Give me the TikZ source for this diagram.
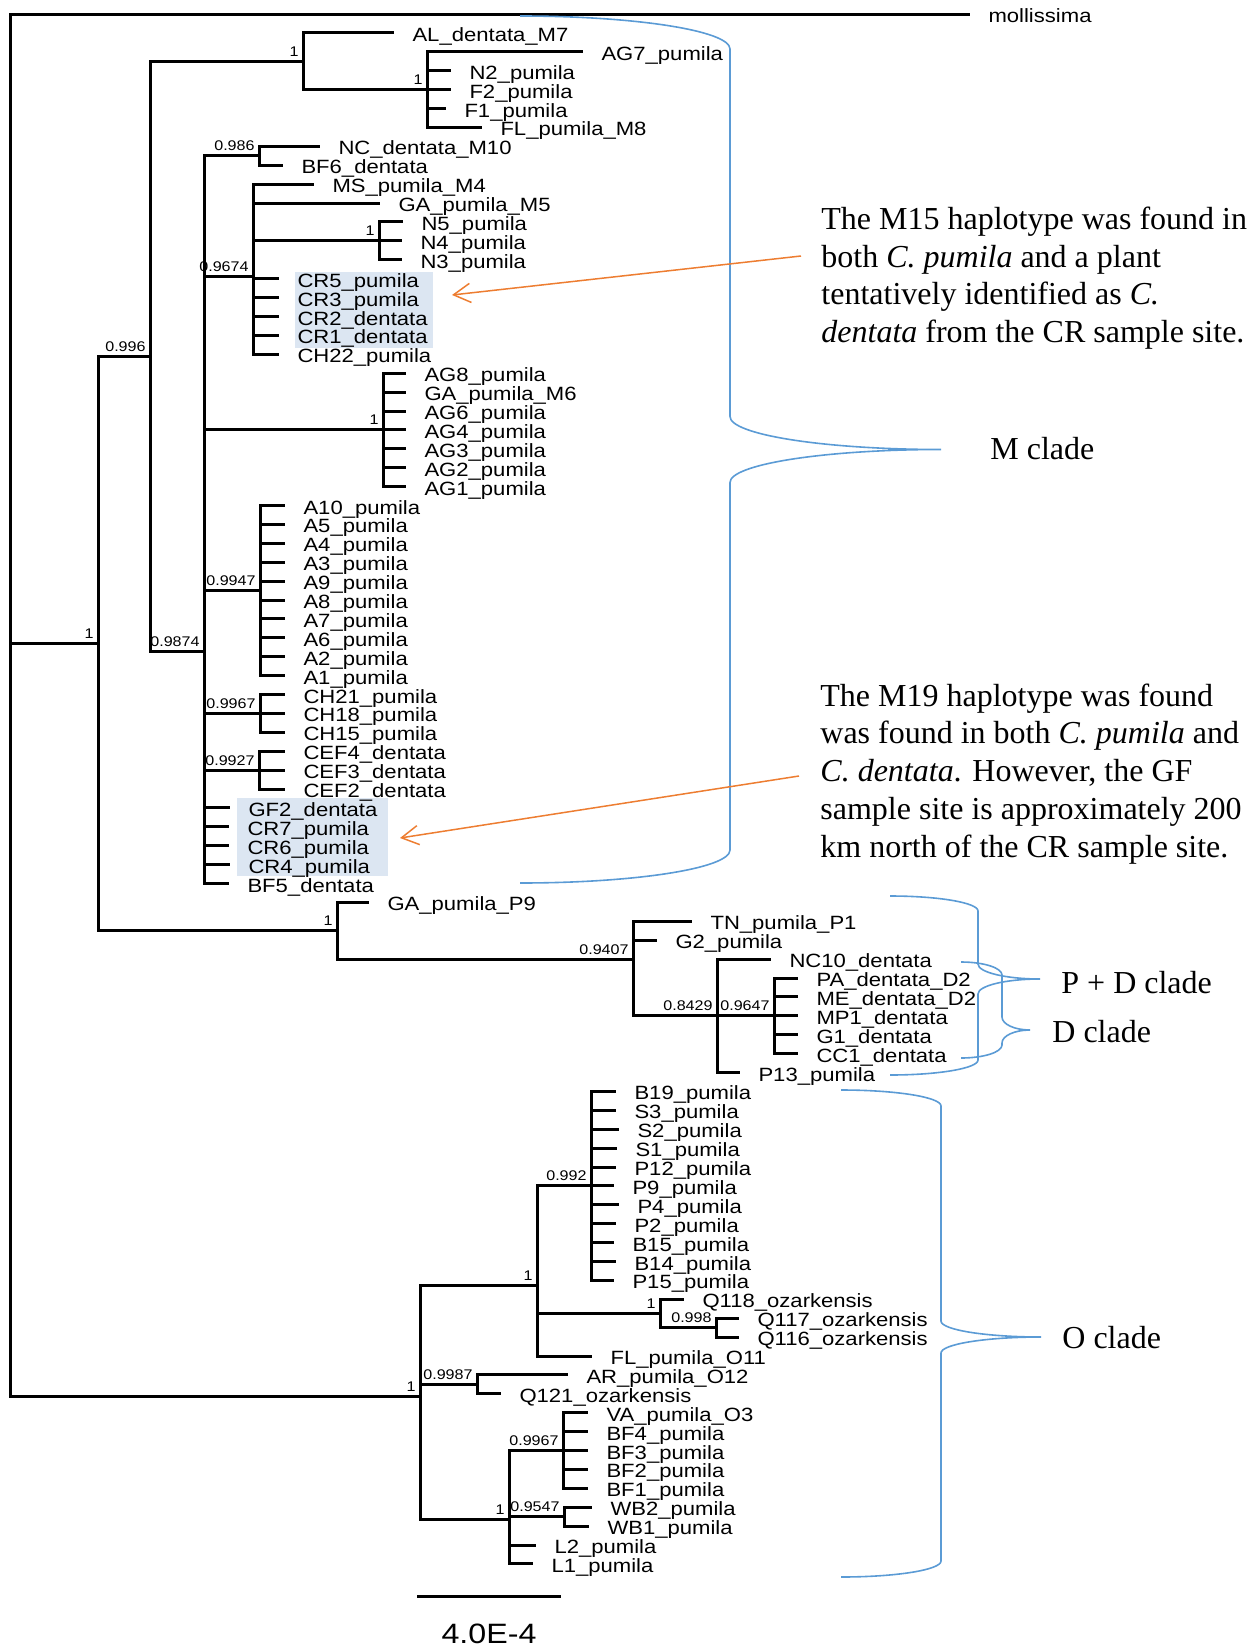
\documentclass[tikz,border=0pt]{standalone}
\usepackage{fontspec}
\newfontfamily\treefont[FakeStretch=1.15]{Liberation Sans}
\newfontfamily\notefont{Liberation Serif}
\usetikzlibrary{arrows.meta}

\definecolor{braceblue}{RGB}{91,155,213}
\definecolor{noteorange}{RGB}{237,125,49}
\definecolor{hlblue}{RGB}{220,230,242}

% curly brace: left x, top y, stem x, tip x, tip y, bottom y, radius
\newcommand{\cladebrace}[7]{%
  \draw[brace] (#1,#2) .. controls ({#1+0.552*(#3-#1)},#2) and (#3,{#2+0.448*#7}) .. (#3,{#2+#7})
    -- (#3,{#5-#7}) .. controls (#3,{#5-0.448*#7}) and ({#4-0.552*(#4-#3)},#5) .. (#4,#5)
    .. controls ({#4-0.552*(#4-#3)},#5) and (#3,{#5+0.448*#7}) .. (#3,{#5+#7})
    -- (#3,{#6-#7}) .. controls (#3,{#6-0.448*#7}) and ({#1+0.552*(#3-#1)},#6) .. (#1,#6);}

\begin{document}
\begin{tikzpicture}[
  x=0.5pt, y=-0.5pt,
  branch/.style={line width=1.5pt},
  tip/.style={anchor=base west, inner sep=0pt, xshift=8.5pt, yshift=-4.25pt,
    font=\treefont\fontsize{9.6}{10}\selectfont},
  supp/.style={anchor=base east, inner sep=0pt, xshift=-2pt, yshift=2.5pt,
    font=\treefont\fontsize{7}{8}\selectfont},
  brace/.style={braceblue, line width=0.8pt},
  note/.style={anchor=north west, inner sep=0pt, align=left,
    font=\notefont\fontsize{16}{18.9}\selectfont},
  clade/.style={anchor=base west, inner sep=0pt, font=\notefont\fontsize{16}{18.9}\selectfont},
  arrow/.style={-{Straight Barb[length=8.5pt,width=9.6pt]}, noteorange, line width=0.75pt}
]
\useasboundingbox (0,0) rectangle (1259,1648);

% highlighted haplotypes
\fill[hlblue] (295,272) rectangle (433,348);
\fill[hlblue] (237,798) rectangle (388,876);

% internal nodes
\coordinate (root) at (10.5,684.6);
\coordinate (nA) at (98,643.5);
\coordinate (nB) at (150,356.3);
\coordinate (nC) at (303,61.35);
\coordinate (nE) at (427,89.7);
\coordinate (nD) at (204,651.3);
\coordinate (nNC) at (259,155.85);
\coordinate (nG) at (253,276.3);
\coordinate (nN) at (379,240.9);
\coordinate (nAG) at (383,429.9);
\coordinate (nAA) at (260,590.55);
\coordinate (nCH) at (260,713.4);
\coordinate (nCEF) at (259,770.1);
\coordinate (nP) at (337,930.75);
\coordinate (nQ) at (633,959.1);
\coordinate (nR) at (717,1015.8);
\coordinate (nS) at (774,1015.8);
\coordinate (nO) at (420,1396.2);
\coordinate (nO1) at (537,1285.1);
\coordinate (nB19) at (591,1185.9);
\coordinate (nQ118) at (660,1313.5);
\coordinate (nQ117) at (716,1327.65);
\coordinate (nAR) at (477,1384.35);
\coordinate (nO3) at (509,1519);
\coordinate (nVA) at (563,1450.5);
\coordinate (nWB) at (564,1516.65);

% root
\draw[branch] (root) |- (970,14.1) node[tip] (mollissima) {mollissima};
\draw[branch] (root) |- (nA);
\draw[branch] (root) |- (nO);
\draw[branch] (nA) |- (nB);
\draw[branch] (nA) |- (nP);
\draw[branch] (nB) |- (nC);
\draw[branch] (nB) |- (nD);

% M clade
\draw[branch] (nC) |- (394,33) node[tip] (ALdentataM7) {AL\_dentata\_M7};
\draw[branch] (nC) |- (nE);
\draw[branch] (nE) |- (583,51.9) node[tip] (AG7pumila) {AG7\_pumila};
\draw[branch] (nE) |- (451,70.8) node[tip] (N2pumila) {N2\_pumila};
\draw[branch] (nE) |- (451,89.7) node[tip] (F2pumila) {F2\_pumila};
\draw[branch] (nE) |- (446,108.6) node[tip] (F1pumila) {F1\_pumila};
\draw[branch] (nE) |- (482,127.5) node[tip] (FLpumilaM8) {FL\_pumila\_M8};

\draw[branch] (nD) |- (nNC);
\draw[branch] (nD) |- (nG);
\draw[branch] (nD) |- (nAG);
\draw[branch] (nD) |- (nAA);
\draw[branch] (nD) |- (nCH);
\draw[branch] (nD) |- (nCEF);
\draw[branch] (nD) |- (230,807.9) node[tip] (GF2dentata) {GF2\_dentata};
\draw[branch] (nD) |- (229,826.8) node[tip] (CR7pumila) {CR7\_pumila};
\draw[branch] (nD) |- (229,845.7) node[tip] (CR6pumila) {CR6\_pumila};
\draw[branch] (nD) |- (230,864.6) node[tip] (CR4pumila) {CR4\_pumila};
\draw[branch] (nD) |- (229,883.5) node[tip] (BF5dentata) {BF5\_dentata};

\draw[branch] (nNC) |- (320,146.4) node[tip] (NCdentataM10) {NC\_dentata\_M10};
\draw[branch] (nNC) |- (283,165.3) node[tip] (BF6dentata) {BF6\_dentata};

\draw[branch] (nG) |- (314,184.2) node[tip] (MSpumilaM4) {MS\_pumila\_M4};
\draw[branch] (nG) |- (380,203.1) node[tip] (GApumilaM5) {GA\_pumila\_M5};
\draw[branch] (nG) |- (nN);
\draw[branch] (nG) |- (279,278.7) node[tip] (CR5pumila) {CR5\_pumila};
\draw[branch] (nG) |- (279,297.6) node[tip] (CR3pumila) {CR3\_pumila};
\draw[branch] (nG) |- (279,316.5) node[tip] (CR2dentata) {CR2\_dentata};
\draw[branch] (nG) |- (279,335.4) node[tip] (CR1dentata) {CR1\_dentata};
\draw[branch] (nG) |- (279,354.3) node[tip] (CH22pumila) {CH22\_pumila};
\draw[branch] (nN) |- (403,222) node[tip] (N5pumila) {N5\_pumila};
\draw[branch] (nN) |- (402,240.9) node[tip] (N4pumila) {N4\_pumila};
\draw[branch] (nN) |- (402,259.8) node[tip] (N3pumila) {N3\_pumila};

\draw[branch] (nAG) |- (406,373.2) node[tip] (AG8pumila) {AG8\_pumila};
\draw[branch] (nAG) |- (406,392.1) node[tip] (GApumilaM6) {GA\_pumila\_M6};
\draw[branch] (nAG) |- (406,411) node[tip] (AG6pumila) {AG6\_pumila};
\draw[branch] (nAG) |- (406,429.9) node[tip] (AG4pumila) {AG4\_pumila};
\draw[branch] (nAG) |- (406,448.8) node[tip] (AG3pumila) {AG3\_pumila};
\draw[branch] (nAG) |- (406,467.7) node[tip] (AG2pumila) {AG2\_pumila};
\draw[branch] (nAG) |- (406,486.6) node[tip] (AG1pumila) {AG1\_pumila};

\draw[branch] (nAA) |- (285,505.5) node[tip] (A10pumila) {A10\_pumila};
\draw[branch] (nAA) |- (285,524.4) node[tip] (A5pumila) {A5\_pumila};
\draw[branch] (nAA) |- (285,543.3) node[tip] (A4pumila) {A4\_pumila};
\draw[branch] (nAA) |- (285,562.2) node[tip] (A3pumila) {A3\_pumila};
\draw[branch] (nAA) |- (285,581.1) node[tip] (A9pumila) {A9\_pumila};
\draw[branch] (nAA) |- (285,600) node[tip] (A8pumila) {A8\_pumila};
\draw[branch] (nAA) |- (285,618.9) node[tip] (A7pumila) {A7\_pumila};
\draw[branch] (nAA) |- (285,637.8) node[tip] (A6pumila) {A6\_pumila};
\draw[branch] (nAA) |- (285,656.7) node[tip] (A2pumila) {A2\_pumila};
\draw[branch] (nAA) |- (285,675.6) node[tip] (A1pumila) {A1\_pumila};

\draw[branch] (nCH) |- (285,694.5) node[tip] (CH21pumila) {CH21\_pumila};
\draw[branch] (nCH) |- (285,713.4) node[tip] (CH18pumila) {CH18\_pumila};
\draw[branch] (nCH) |- (285,732.3) node[tip] (CH15pumila) {CH15\_pumila};
\draw[branch] (nCEF) |- (285,751.2) node[tip] (CEF4dentata) {CEF4\_dentata};
\draw[branch] (nCEF) |- (285,770.1) node[tip] (CEF3dentata) {CEF3\_dentata};
\draw[branch] (nCEF) |- (285,789) node[tip] (CEF2dentata) {CEF2\_dentata};

% P + D clade
\draw[branch] (nP) |- (369,902.4) node[tip] (GApumilaP9) {GA\_pumila\_P9};
\draw[branch] (nP) |- (nQ);
\draw[branch] (nQ) |- (692,921.3) node[tip] (TNpumilaP1) {TN\_pumila\_P1};
\draw[branch] (nQ) |- (657,940.2) node[tip] (G2pumila) {G2\_pumila};
\draw[branch] (nQ) |- (nR);
\draw[branch] (nR) |- (771,959.1) node[tip] (NC10dentata) {NC10\_dentata};
\draw[branch] (nR) |- (nS);
\draw[branch] (nR) |- (740,1072.5) node[tip] (P13pumila) {P13\_pumila};
\draw[branch] (nS) |- (798,978) node[tip] (PAdentataD2) {PA\_dentata\_D2};
\draw[branch] (nS) |- (798,996.9) node[tip] (MEdentataD2) {ME\_dentata\_D2};
\draw[branch] (nS) |- (798,1015.8) node[tip] (MP1dentata) {MP1\_dentata};
\draw[branch] (nS) |- (798,1034.7) node[tip] (G1dentata) {G1\_dentata};
\draw[branch] (nS) |- (798,1053.6) node[tip] (CC1dentata) {CC1\_dentata};

% O clade
\draw[branch] (nO) |- (nO1);
\draw[branch] (nO) |- (nAR);
\draw[branch] (nO) |- (nO3);
\draw[branch] (nO1) |- (nB19);
\draw[branch] (nO1) |- (nQ118);
\draw[branch] (nO1) |- (592,1356) node[tip] (FLpumilaO11) {FL\_pumila\_O11};
\draw[branch] (nB19) |- (616,1091.4) node[tip] (B19pumila) {B19\_pumila};
\draw[branch] (nB19) |- (616,1110.3) node[tip] (S3pumila) {S3\_pumila};
\draw[branch] (nB19) |- (619,1129.2) node[tip] (S2pumila) {S2\_pumila};
\draw[branch] (nB19) |- (617,1148.1) node[tip] (S1pumila) {S1\_pumila};
\draw[branch] (nB19) |- (616,1167) node[tip] (P12pumila) {P12\_pumila};
\draw[branch] (nB19) |- (614,1185.9) node[tip] (P9pumila) {P9\_pumila};
\draw[branch] (nB19) |- (619,1204.8) node[tip] (P4pumila) {P4\_pumila};
\draw[branch] (nB19) |- (616,1223.7) node[tip] (P2pumila) {P2\_pumila};
\draw[branch] (nB19) |- (614,1242.6) node[tip] (B15pumila) {B15\_pumila};
\draw[branch] (nB19) |- (616,1261.5) node[tip] (B14pumila) {B14\_pumila};
\draw[branch] (nB19) |- (614,1280.4) node[tip] (P15pumila) {P15\_pumila};
\draw[branch] (nQ118) |- (684,1299.3) node[tip] (Q118ozarkensis) {Q118\_ozarkensis};
\draw[branch] (nQ118) |- (nQ117);
\draw[branch] (nQ117) |- (739,1318.2) node[tip] (Q117ozarkensis) {Q117\_ozarkensis};
\draw[branch] (nQ117) |- (739,1337.1) node[tip] (Q116ozarkensis) {Q116\_ozarkensis};
\draw[branch] (nAR) |- (568,1374.9) node[tip] (ARpumilaO12) {AR\_pumila\_O12};
\draw[branch] (nAR) |- (501,1393.8) node[tip] (Q121ozarkensis) {Q121\_ozarkensis};
\draw[branch] (nO3) |- (nVA);
\draw[branch] (nO3) |- (nWB);
\draw[branch] (nO3) |- (536,1545) node[tip] (L2pumila) {L2\_pumila};
\draw[branch] (nO3) |- (533,1563.9) node[tip] (L1pumila) {L1\_pumila};
\draw[branch] (nVA) |- (588,1412.7) node[tip] (VApumilaO3) {VA\_pumila\_O3};
\draw[branch] (nVA) |- (588,1431.6) node[tip] (BF4pumila) {BF4\_pumila};
\draw[branch] (nVA) |- (588,1450.5) node[tip] (BF3pumila) {BF3\_pumila};
\draw[branch] (nVA) |- (588,1469.4) node[tip] (BF2pumila) {BF2\_pumila};
\draw[branch] (nVA) |- (588,1488.3) node[tip] (BF1pumila) {BF1\_pumila};
\draw[branch] (nWB) |- (592,1507.2) node[tip] (WB2pumila) {WB2\_pumila};
\draw[branch] (nWB) |- (589,1526.1) node[tip] (WB1pumila) {WB1\_pumila};

% support values
\node[supp] (sA) at (nA) {1};
\node[supp] (sB) at (nB) {0.996};
\node[supp] (sC) at (nC) {1};
\node[supp] (sE) at (nE) {1};
\node[supp] (sD) at (nD) {0.9874};
\node[supp] (sNC) at (nNC) {0.986};
\node[supp] (sG) at (nG) {0.9674};
\node[supp] (sN) at (nN) {1};
\node[supp] (sAG) at (nAG) {1};
\node[supp] (sAA) at (nAA) {0.9947};
\node[supp] (sCH) at (nCH) {0.9967};
\node[supp] (sCEF) at (nCEF) {0.9927};
\node[supp] (sP) at (nP) {1};
\node[supp] (sQ) at (nQ) {0.9407};
\node[supp] (sR) at (nR) {0.8429};
\node[supp] (sS) at (nS) {0.9647};
\node[supp] (sO) at (nO) {1};
\node[supp] (sO1) at (nO1) {1};
\node[supp] (sB19) at (nB19) {0.992};
\node[supp] (sQ118) at (nQ118) {1};
\node[supp] (sQ117) at (nQ117) {0.998};
\node[supp] (sAR) at (nAR) {0.9987};
\node[supp] (sO3) at (nO3) {1};
\node[supp] (sVA) at (nVA) {0.9967};
\node[supp] (sWB) at (nWB) {0.9547};

% scale bar
\draw[branch] (417,1596) coordinate (sbleft) -- (561,1596) coordinate (sbright);
\node[anchor=base, inner sep=0pt, font=\treefont\fontsize{14}{14}\selectfont] (sblabel) at (489,1643) {4.0E-4};

% clade braces
\cladebrace{520}{16}{730}{941}{449.5}{883}{33}
\cladebrace{890}{896}{978}{1040}{979}{1075}{15}
\cladebrace{961}{962}{1002}{1030}{1030}{1058}{13}
\cladebrace{841}{1090}{941}{1041}{1337}{1577}{16}

\node[clade] (mclade) at (990,459) {M clade};
\node[clade] (pdclade) at (1061,993) {P + D clade};
\node[clade] (dclade) at (1052,1042) {D clade};
\node[clade] (oclade) at (1062,1348) {O clade};

% notes with arrows
\node[note] (note1) at (821,206.4) {The M15 haplotype was found in\\both \textit{C. pumila} and a plant\\tentatively identified as \textit{C.}\\\textit{dentata} from the CR sample site.};
\node[note] (note2) at (820,683.1) {The M19 haplotype was found\\was found in both \textit{C. pumila} and\\\textit{C. dentata}. However, the GF\\sample site is approximately 200\\km north of the CR sample site.};

\coordinate (note1tail) at (801,256);
\coordinate (box1head) at (452,295);
\coordinate (note2tail) at (799,776);
\coordinate (box2head) at (400,838);
\draw[arrow] (note1tail) -- (box1head);
\draw[arrow] (note2tail) -- (box2head);

\end{tikzpicture}
\end{document}
